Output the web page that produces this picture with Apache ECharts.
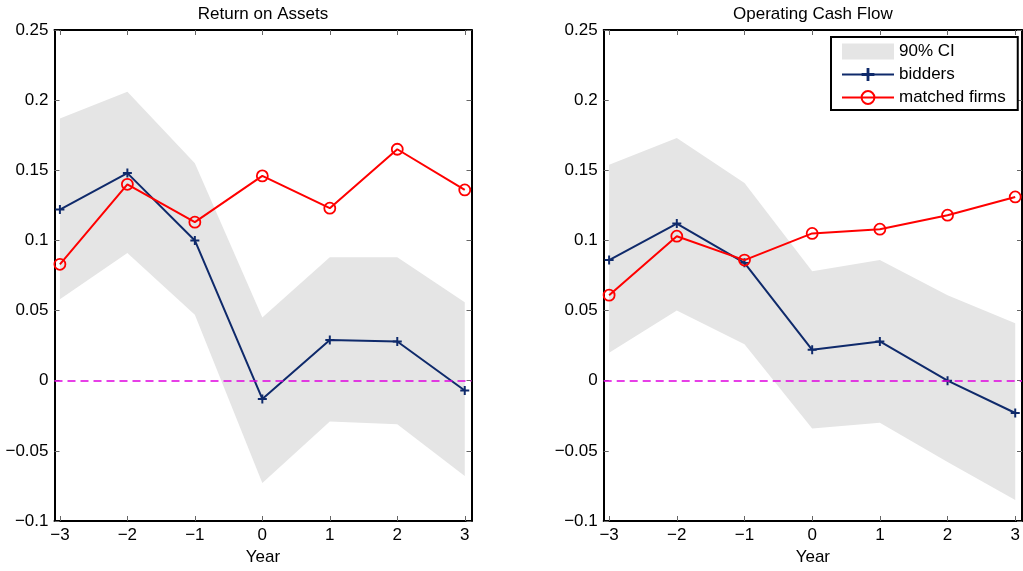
<!DOCTYPE html>
<html><head><meta charset="utf-8">
<script src="https://cdn.jsdelivr.net/npm/echarts@6/dist/echarts.min.js"></script>
<style>html,body{margin:0;padding:0;background:#fff}#c{width:1023px;height:571px}</style>
</head><body><div id="c"></div>
<script>
const years = [-3, -2, -1, 0, 1, 2, 3];
const xTicks = [-3, -2, -1, 0, 1, 2, 3];
const yTicks = [-0.1, -0.05, 0, 0.05, 0.1, 0.15, 0.2, 0.25];
const panelTitles = ['Return on Assets', 'Operating Cash Flow'];
const xAxisTitle = 'Year';
const legendNames = ['90% CI', 'bidders', 'matched firms'];

const roaBidders = [0.122, 0.148, 0.100, -0.013, 0.029, 0.028, -0.007];
const roaMatched = [0.083, 0.140, 0.113, 0.146, 0.123, 0.165, 0.136];
const roaCiUpper = [0.187, 0.206, 0.155, 0.045, 0.088, 0.088, 0.056];
const roaCiLower = [0.058, 0.091, 0.047, -0.073, -0.029, -0.031, -0.068];

const ocfBidders = [0.086, 0.112, 0.084, 0.022, 0.028, 0.000, -0.023];
const ocfMatched = [0.061, 0.103, 0.086, 0.105, 0.108, 0.118, 0.131];
const ocfCiUpper = [0.154, 0.173, 0.141, 0.078, 0.086, 0.061, 0.041];
const ocfCiLower = [0.020, 0.050, 0.026, -0.034, -0.030, -0.058, -0.085];

const panels = [
  {bidders: roaBidders, matched: roaMatched, upper: roaCiUpper, lower: roaCiLower},
  {bidders: ocfBidders, matched: ocfMatched, upper: ocfCiUpper, lower: ocfCiLower}
];

const FONT = 'Liberation Sans, Arial, Helvetica, sans-serif';
const FS = 17;
const NAVY = '#0f2a6b';
const RED = '#ff0000';
const MAGENTA = '#e000e0';
const GRAY = '#e5e5e5';
const XMIN = -3.08, XMAX = 3.1;
const minus = s => String(s).replace('-', '\u2212');
const yFmt = v => minus(parseFloat(v.toFixed(2)));

const grids = [
  {left: 54.5, top: 30, width: 417, height: 491, outerBoundsMode: 'none', containLabel: false},
  {left: 603.7, top: 30, width: 418.3, height: 491, outerBoundsMode: 'none', containLabel: false}
];

function bandRenderer(p) {
  return function (params, api) {
    if (params.dataIndex !== 0) return null;
    const pts = [];
    for (let k = 0; k < years.length; k++) pts.push(api.coord([years[k], p.upper[k]]));
    for (let k = years.length - 1; k >= 0; k--) pts.push(api.coord([years[k], p.lower[k]]));
    return {type: 'polygon', shape: {points: pts}, style: {fill: GRAY}, silent: true};
  };
}

const xAxes = [], yAxes = [], series = [];
panels.forEach((p, i) => {
  const tickCommon = {show: true, inside: true, length: 5, lineStyle: {color: '#666', width: 1}};
  const lineCommon = {show: true, onZero: false, lineStyle: {color: '#000', width: 2}};
  xAxes.push({
    type: 'value', gridIndex: i, position: 'bottom', min: XMIN, max: XMAX,
    axisLine: lineCommon,
    axisTick: Object.assign({customValues: xTicks}, tickCommon),
    axisLabel: {customValues: xTicks, formatter: v => minus(v), color: '#000', fontSize: FS, fontFamily: FONT, margin: 6},
    splitLine: {show: false},
    name: xAxisTitle, nameLocation: 'middle', nameGap: 27,
    nameTextStyle: {color: '#000', fontSize: FS, fontFamily: FONT}
  });
  xAxes.push({
    type: 'value', gridIndex: i, position: 'top', min: XMIN, max: XMAX,
    axisLine: lineCommon,
    axisTick: Object.assign({customValues: xTicks}, tickCommon),
    axisLabel: {show: false, customValues: xTicks},
    splitLine: {show: false},
    name: panelTitles[i], nameLocation: 'middle', nameGap: 7,
    nameTextStyle: {color: '#000', fontSize: FS, fontFamily: FONT, verticalAlign: 'bottom'}
  });
  yAxes.push({
    type: 'value', gridIndex: i, position: 'left', min: yTicks[0], max: yTicks[yTicks.length - 1], interval: 0.05,
    axisLine: lineCommon, axisTick: tickCommon,
    axisLabel: {formatter: yFmt, color: '#000', fontSize: FS, fontFamily: FONT, margin: 6},
    splitLine: {show: false}
  });
  yAxes.push({
    type: 'value', gridIndex: i, position: 'right', min: yTicks[0], max: yTicks[yTicks.length - 1], interval: 0.05,
    axisLine: lineCommon, axisTick: tickCommon,
    axisLabel: {show: false},
    splitLine: {show: false}
  });
  const xi = i * 2, yi = i * 2;
  series.push({
    name: legendNames[0], type: 'custom', xAxisIndex: xi, yAxisIndex: yi, color: GRAY,
    itemStyle: {color: GRAY}, silent: true, z: 1,
    renderItem: bandRenderer(p),
    data: years.map((x, k) => [x, p.lower[k], p.upper[k]]),
    encode: {x: 0, y: [1, 2]},
    markLine: {
      silent: true, symbol: 'none', label: {show: false}, animation: false,
      lineStyle: {color: MAGENTA, type: [8, 5], width: 1.6},
      data: [{yAxis: 0}]
    }
  });
  series.push({
    name: legendNames[1], type: 'line', xAxisIndex: xi, yAxisIndex: yi, color: NAVY,
    symbol: 'path://M-1,-0.22H1V0.22H-1ZM-0.22,-1H0.22V1H-0.22Z', symbolSize: 9, symbolKeepAspect: true,
    lineStyle: {color: NAVY, width: 2}, itemStyle: {color: NAVY},
    data: years.map((x, k) => [x, p.bidders[k]]), z: 3
  });
  series.push({
    name: legendNames[2], type: 'line', xAxisIndex: xi, yAxisIndex: yi, color: RED,
    symbol: 'circle', symbolSize: 11,
    lineStyle: {color: RED, width: 2},
    itemStyle: {color: 'rgba(255,255,255,0)', borderColor: RED, borderWidth: 1.8},
    data: years.map((x, k) => [x, p.matched[k]]), z: 4
  });
});

const chart = echarts.init(document.getElementById('c'), null, {renderer: 'canvas'});
chart.setOption({
  animation: false,
  backgroundColor: '#fff',
  textStyle: {fontFamily: FONT},
  grid: grids,
  xAxis: xAxes,
  yAxis: yAxes,
  legend: {
    left: 831, top: 37, orient: 'vertical', selectedMode: false,
    itemWidth: 52, itemHeight: 16, itemGap: 6,
    padding: [6, 12, 4, 10],
    borderColor: '#000', borderWidth: 2, backgroundColor: '#fff',
    textStyle: {fontSize: FS, color: '#000', fontFamily: FONT},
    data: [
      {name: legendNames[0], icon: 'rect', itemStyle: {color: GRAY}},
      {name: legendNames[1]},
      {name: legendNames[2]}
    ]
  },
  series: series
});
</script>
</body></html>
